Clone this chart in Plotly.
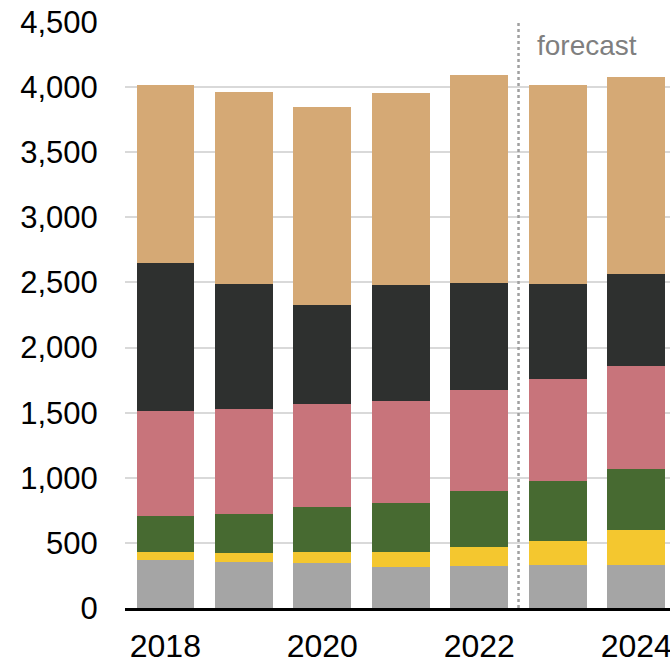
import plotly.graph_objects as go

years = [2018, 2019, 2020, 2021, 2022, 2023, 2024]
hydro_other = [366, 353, 345, 314, 322, 327, 332]
solar = [64, 72, 88, 116, 147, 188, 266]
wind = [274, 294, 340, 376, 432, 457, 473]
nuclear = [806, 809, 791, 781, 770, 783, 788]
coal = [1139, 957, 764, 890, 824, 730, 705]
natural_gas = [1366, 1479, 1520, 1474, 1595, 1533, 1511]

series = [
    ("hydro and other", hydro_other, "#A5A5A5"),
    ("solar", solar, "#F4C72F"),
    ("wind", wind, "#476A31"),
    ("nuclear", nuclear, "#C8747B"),
    ("coal", coal, "#2E302F"),
    ("natural gas", natural_gas, "#D5A975"),
]

y_ticks = [0, 500, 1000, 1500, 2000, 2500, 3000, 3500, 4000, 4500]
x_ticks = [2018, 2020, 2022, 2024]
forecast_start = 2022.5

fig = go.Figure()
for name, vals, color in series:
    fig.add_trace(go.Bar(
        x=years, y=vals, name=name,
        marker=dict(color=color, line=dict(width=0)),
        width=0.735,
    ))

fig.add_shape(type="line", xref="x", yref="y",
              x0=forecast_start, x1=forecast_start, y0=0, y1=4500,
              line=dict(color="#A0A0A0", width=2.5, dash="dot"))

fig.add_annotation(x=forecast_start, y=4500, xref="x", yref="y",
                   text="forecast", showarrow=False,
                   xanchor="left", yanchor="top", xshift=16, yshift=-6,
                   font=dict(family="Liberation Sans, Arial", size=28, color="#7F7F7F"))

fig.update_layout(
    barmode="stack",
    width=670, height=663,
    margin=dict(l=125, r=0, t=22, b=55, autoexpand=False),
    paper_bgcolor="white", plot_bgcolor="white",
    showlegend=False,
    font=dict(family="Liberation Sans, Arial", size=32, color="black"),
    xaxis=dict(
        range=[2017.486, 2024.43],
        tickvals=x_ticks, ticktext=[str(v) for v in x_ticks],
        showgrid=False, zeroline=False,
        showline=True, linecolor="black", linewidth=3,
        ticks="outside", ticklen=8, tickcolor="rgba(0,0,0,0)",
        tickfont=dict(size=32),
        automargin=False, ticklabeloverflow="allow",
    ),
    yaxis=dict(
        range=[0, 4500],
        tickvals=y_ticks, ticktext=[f"{v:,}" for v in y_ticks],
        showgrid=True, gridcolor="#D9D9D9", gridwidth=2,
        zeroline=False, showline=False,
        ticks="outside", ticklen=20, tickcolor="rgba(0,0,0,0)",
        tickfont=dict(size=31),
        automargin=False,
    ),
)

fig.write_html("out.html")
